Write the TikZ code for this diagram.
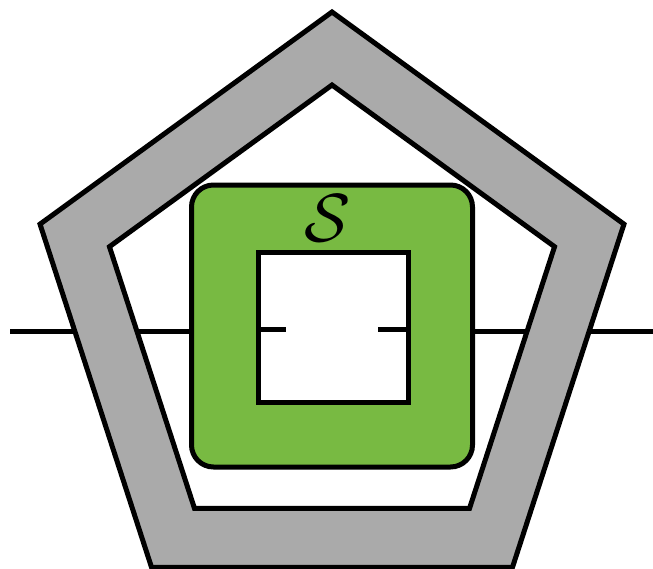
\documentclass[tikz,border=0pt]{standalone}
\usepackage{amsmath,amssymb}
\usepackage{graphicx}
\usepackage{tikz}
\usetikzlibrary{calc}

\definecolor{ringgray}{RGB}{170,170,170}
\definecolor{tensorgreen}{RGB}{120,186,66}

\begin{document}
\begin{tikzpicture}[
    x=1pt, y=-1pt,
    wire/.style={draw=black, line width=5pt},
    ring/.style={draw=black, line width=5pt, fill=ringgray, even odd rule},
    tensor/.style={
        rectangle, rounded corners=22pt, draw=black, line width=5pt,
        fill=tensorgreen, minimum width=281pt, minimum height=282pt
    },
    hole/.style={
        rectangle, draw=black, line width=5pt, fill=white,
        minimum width=150pt, minimum height=150pt
    },
    tensorlabel/.style={inner sep=0pt}
]
\useasboundingbox (0,0) rectangle (653,568);

% Open wire, passing under the ring
\coordinate (lin) at (10,331);
\coordinate (rin) at (653,331);
\draw[wire] (lin) -- (rin);

% Pentagon ring
\coordinate (c) at (332,319);
\path[ring] (c) +(270:307) -- +(342:307) -- +(54:307) -- +(126:307) -- +(198:307) -- cycle
            (c) +(270:234) -- +(342:234) -- +(54:234) -- +(126:234) -- +(198:234) -- cycle;

% Tensor with a hole
\node[tensor] (S) at (332,326) {};
\node[hole] (H) at (333.5,327) {};
\node[tensorlabel] (Slab) at (328,218) {\scalebox{6.8}{$\mathcal{S}$}};

% Wire stubs inside the hole
\coordinate (lstub) at (286,329);
\coordinate (rstub) at (378,329);
\draw[wire] (H.west |- lstub) -- (lstub);
\draw[wire] (rstub) -- (H.east |- rstub);

\end{tikzpicture}
\end{document}
